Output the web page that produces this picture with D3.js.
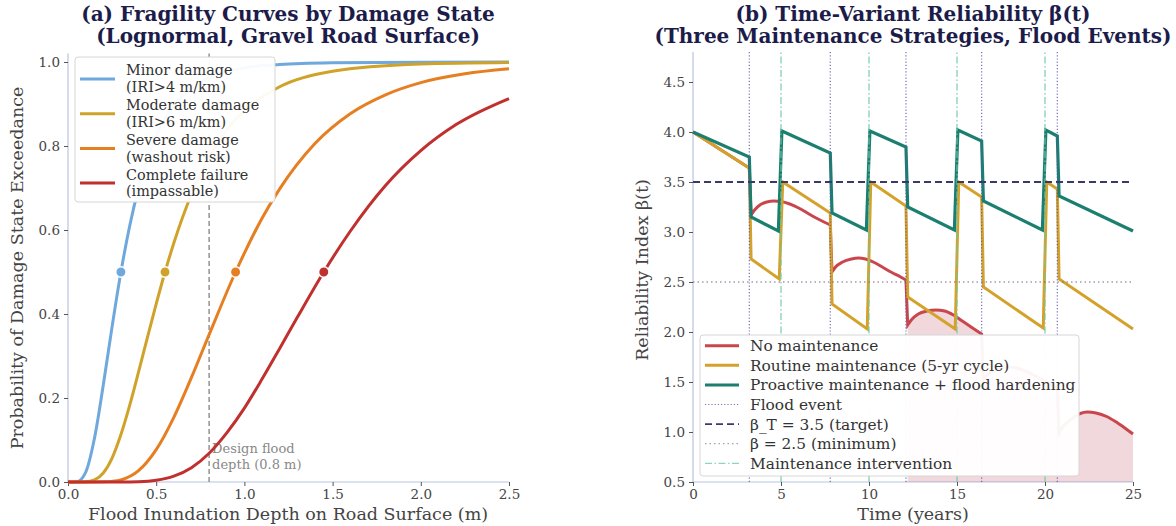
<!DOCTYPE html>
<html><head><meta charset="utf-8">
<script src="https://cdn.jsdelivr.net/npm/d3@7"></script>
<style>
body{margin:0;background:#fff;}
svg{display:block;}
text{font-family:"DejaVu Serif",serif;}
</style></head><body>
<svg id="c" width="1176" height="526"></svg>
<script>
// ===== Panel (a) data =====
const depthTicks = [0, 0.5, 1.0, 1.5, 2.0, 2.5];
const probTicks = [0, 0.2, 0.4, 0.6, 0.8, 1.0];
const damageStates = ["Minor damage", "Moderate damage", "Severe damage", "Complete failure"];
const damageNotes = ["(IRI>4 m/km)", "(IRI>6 m/km)", "(washout risk)", "(impassable)"];
const damageMedians = [0.3, 0.55, 0.95, 1.45];
const designDepth = 0.8;
const minorCurve = [[0,0],[0.05,0.0006],[0.1,0.023],[0.15,0.104],[0.2,0.231],[0.25,0.370],[0.3,0.5],[0.35,0.610],[0.4,0.700],[0.5,0.824],[0.6,0.896],[0.7,0.938],[0.8,0.963],[1.0,0.986],[1.2,0.994],[1.5,0.998],[2.0,0.9997],[2.5,0.9999]];
const moderateCurve = [[0,0],[0.05,0],[0.1,0.0003],[0.15,0.005],[0.2,0.0215],[0.25,0.057],[0.3,0.113],[0.35,0.183],[0.4,0.262],[0.45,0.344],[0.5,0.424],[0.55,0.5],[0.6,0.569],[0.7,0.685],[0.8,0.773],[0.9,0.838],[1.0,0.884],[1.2,0.941],[1.5,0.978],[2.0,0.995],[2.5,0.9988]];
const severeCurve = [[0,0],[0.1,0],[0.2,0.0003],[0.25,0.0015],[0.3,0.005],[0.4,0.027],[0.5,0.077],[0.6,0.154],[0.7,0.249],[0.8,0.351],[0.95,0.5],[1.0,0.545],[1.1,0.628],[1.2,0.698],[1.4,0.806],[1.6,0.877],[1.8,0.922],[2.0,0.951],[2.25,0.972],[2.5,0.984]];
const completeCurve = [[0,0],[0.3,0],[0.4,0.0006],[0.5,0.004],[0.6,0.014],[0.7,0.034],[0.8,0.0685],[0.9,0.117],[1.0,0.176],[1.1,0.245],[1.2,0.318],[1.3,0.392],[1.45,0.5],[1.6,0.597],[1.8,0.706],[2.0,0.789],[2.2,0.851],[2.5,0.913]];
const fragilityCurves = [minorCurve, moderateCurve, severeCurve, completeCurve];

// ===== Panel (b) data =====
const timeTicks = [0, 5, 10, 15, 20, 25];
const betaTicks = [0.5, 1.0, 1.5, 2.0, 2.5, 3.0, 3.5, 4.0, 4.5];
const floodEvents = [3.2, 7.8, 12.1, 16.4, 20.7];
const maintenanceYears = [5, 10, 15, 20];
const betaTarget = 3.5;
const betaMinimum = 2.5;
// No maintenance: smooth pieces between flood drops
const noMaintenance = [
  [[0,4.0],[3.2,3.64]],
  [[3.3,3.17],[3.5,3.22],[3.8,3.27],[4.2,3.30],[4.6,3.31],[5.0,3.305],[5.5,3.28],[6.0,3.24],[6.5,3.19],[7.0,3.14],[7.5,3.095],[7.8,3.07]],
  [[7.9,2.60],[8.1,2.65],[8.5,2.70],[9.0,2.73],[9.4,2.74],[9.8,2.73],[10.3,2.695],[10.8,2.645],[11.3,2.595],[11.8,2.55],[12.1,2.52]],
  [[12.2,2.07],[12.4,2.12],[12.8,2.18],[13.3,2.21],[13.8,2.22],[14.3,2.21],[14.8,2.17],[15.3,2.11],[15.8,2.05],[16.4,1.98]],
  [[16.5,1.52],[16.7,1.57],[17.2,1.62],[17.8,1.65],[18.4,1.64],[19.0,1.60],[19.6,1.55],[20.2,1.49],[20.7,1.44]],
  [[20.8,0.99],[21.0,1.05],[21.5,1.13],[22.0,1.185],[22.4,1.20],[22.9,1.19],[23.5,1.155],[24.0,1.105],[24.5,1.045],[25.0,0.98]]
];
const routineMaintenance = [[0,4.0],[3.2,3.64],[3.3,2.73],[4.9,2.53],[5.1,3.5],[7.8,3.19],[7.9,2.28],[9.9,2.03],[10.1,3.5],[12.1,3.26],[12.2,2.35],[14.9,2.03],[15.1,3.5],[16.4,3.35],[16.5,2.45],[19.9,2.04],[20.1,3.5],[20.7,3.43],[20.8,2.53],[25,2.03]];
const proactiveMaintenance = [[0,4.0],[3.2,3.75],[3.3,3.15],[4.85,3.01],[5.05,4.01],[7.8,3.79],[7.9,3.19],[9.85,3.02],[10.05,4.01],[12.1,3.85],[12.2,3.25],[14.85,3.02],[15.05,4.02],[16.4,3.91],[16.5,3.31],[19.85,3.02],[20.05,4.02],[20.7,3.96],[20.8,3.36],[25,3.01]];

// ===== styles =====
const damageColors = ["#6fa8dc", "#cfa32a", "#e67e22", "#c0302e"];
const colRed = "#c9474c", colGold = "#d4a12a", colGreen = "#1b7f70";
const titleCol = "#1c1c4a", textCol = "#444", spineCol = "#b7c3dd";
const titleSize = "20px", labelSize = "17.5px", legendSize = "15.4px", legendSizeA = "14.4px", tickSize = "13.5px";

const svg = d3.select("#c");

function axesFrame(g, x, y, xt, yt, xfmt, yfmt) {
  const [x0, x1] = x.range(), [yb, yt0] = y.range();
  g.append("line").attr("x1", x0).attr("x2", x0).attr("y1", yb).attr("y2", yt0).attr("stroke", spineCol).attr("stroke-width", 1.2);
  g.append("line").attr("x1", x0).attr("x2", x1).attr("y1", yb).attr("y2", yb).attr("stroke", spineCol).attr("stroke-width", 1.2);
  const xa = d3.axisBottom(x).tickValues(xt).tickFormat(xfmt).tickSize(4).tickPadding(3);
  const ya = d3.axisLeft(y).tickValues(yt).tickFormat(yfmt).tickSize(4).tickPadding(4);
  const gx = g.append("g").attr("transform", `translate(0,${yb})`).call(xa);
  const gy = g.append("g").attr("transform", `translate(${x0},0)`).call(ya);
  [gx, gy].forEach(a => {
    a.select(".domain").remove();
    a.selectAll(".tick line").attr("stroke", "#555").attr("stroke-width", 1);
    a.selectAll(".tick text").attr("fill", textCol).style("font-size", tickSize).style("font-family", "DejaVu Serif");
  });
}

// ================= Panel (a) =================
const xa = d3.scaleLinear().domain([0, 2.5]).range([68, 509]);
const ya = d3.scaleLinear().domain([0, 1.02]).range([482, 53.6]);
const ga = svg.append("g");
axesFrame(ga, xa, ya, depthTicks, probTicks, d3.format(".1f"), d3.format(".1f"));

ga.append("line").attr("x1", xa(designDepth)).attr("x2", xa(designDepth)).attr("y1", ya(0)).attr("y2", ya(1.02))
  .attr("stroke", "#999").attr("stroke-width", 1.6).attr("stroke-dasharray", "5,3");
ga.append("text").attr("x", xa(designDepth) + 3).attr("y", 453).attr("fill", "#888").style("font-size", "13px").text("Design flood");
ga.append("text").attr("x", xa(designDepth) + 3).attr("y", 469).attr("fill", "#888").style("font-size", "13px").text("depth (0.8 m)");

const lineA = d3.line().x(d => xa(d[0])).y(d => ya(d[1])).curve(d3.curveMonotoneX);
fragilityCurves.forEach((c, i) => {
  ga.append("path").attr("d", lineA(c)).attr("fill", "none").attr("stroke", damageColors[i]).attr("stroke-width", 3);
});
damageMedians.forEach((m, i) => {
  ga.append("circle").attr("cx", xa(m)).attr("cy", ya(0.5)).attr("r", 5.2).attr("fill", damageColors[i]).attr("stroke", "#fff").attr("stroke-width", 1.5);
});

const lgA = ga.append("g");
lgA.append("rect").attr("x", 75).attr("y", 57).attr("width", 200).attr("height", 145).attr("rx", 3)
  .attr("fill", "#fff").attr("fill-opacity", 0.95).attr("stroke", "#d6d6d6");
damageStates.forEach((s, i) => {
  const cy = 79 + i * 34.7;
  lgA.append("line").attr("x1", 80).attr("x2", 115).attr("y1", cy).attr("y2", cy).attr("stroke", damageColors[i]).attr("stroke-width", 3);
  lgA.append("text").attr("x", 126).attr("y", cy - 3.6).attr("fill", "#333").style("font-size", legendSizeA).text(s);
  lgA.append("text").attr("x", 126).attr("y", cy + 13.2).attr("fill", "#333").style("font-size", legendSizeA).text(damageNotes[i]);
});

svg.append("text").attr("x", 288).attr("y", 21).attr("text-anchor", "middle").attr("fill", titleCol)
  .style("font-size", titleSize).style("font-weight", "bold").text("(a) Fragility Curves by Damage State");
svg.append("text").attr("x", 288).attr("y", 43).attr("text-anchor", "middle").attr("fill", titleCol)
  .style("font-size", titleSize).style("font-weight", "bold").text("(Lognormal, Gravel Road Surface)");
svg.append("text").attr("x", 288).attr("y", 520).attr("text-anchor", "middle").attr("fill", textCol)
  .style("font-size", labelSize).text("Flood Inundation Depth on Road Surface (m)");
svg.append("text").attr("transform", "translate(23,268) rotate(-90)").attr("text-anchor", "middle").attr("fill", textCol)
  .style("font-size", labelSize).text("Probability of Damage State Exceedance");

// ================= Panel (b) =================
const xb = d3.scaleLinear().domain([0, 25]).range([693, 1133]);
const yb = d3.scaleLinear().domain([0.5, 4.8]).range([482, 52]);
const gb = svg.append("g");
axesFrame(gb, xb, yb, timeTicks, betaTicks, d3.format("d"), d3.format(".1f"));

const lineB = d3.line().x(d => xb(d[0])).y(d => yb(d[1])).curve(d3.curveMonotoneX);
function joinedPath(segs) {
  return segs.map((s, i) => { const p = lineB(s); return i === 0 ? p : "L" + p.slice(1); }).join("");
}
const belowSegs = noMaintenance.slice(3);
const fillPath = joinedPath(belowSegs) + `L${xb(25)},${yb(0.5)}L${xb(belowSegs[0][0][0])},${yb(0.5)}Z`;
gb.append("path").attr("d", fillPath).attr("fill", "#b23a55").attr("fill-opacity", 0.2).attr("stroke", "none");

gb.append("path").attr("d", joinedPath(noMaintenance)).attr("fill", "none").attr("stroke", colRed).attr("stroke-width", 3);
const lineLin = d3.line().x(d => xb(d[0])).y(d => yb(d[1]));
gb.append("path").attr("d", lineLin(routineMaintenance)).attr("fill", "none").attr("stroke", colGold).attr("stroke-width", 3);
gb.append("path").attr("d", lineLin(proactiveMaintenance)).attr("fill", "none").attr("stroke", colGreen).attr("stroke-width", 3.2);

floodEvents.forEach(t => {
  gb.append("line").attr("x1", xb(t)).attr("x2", xb(t)).attr("y1", yb(0.5)).attr("y2", yb(4.8))
    .attr("stroke", "#5b55b0").attr("stroke-width", 1.2).attr("stroke-dasharray", "1.2,2").attr("opacity", 0.85);
});
maintenanceYears.forEach(t => {
  gb.append("line").attr("x1", xb(t)).attr("x2", xb(t)).attr("y1", yb(0.5)).attr("y2", yb(4.8))
    .attr("stroke", "#6fcaa6").attr("stroke-width", 1.3).attr("stroke-dasharray", "7,2.5,1.5,2.5").attr("opacity", 0.85);
});
gb.append("line").attr("x1", xb(0)).attr("x2", xb(25)).attr("y1", yb(betaTarget)).attr("y2", yb(betaTarget))
  .attr("stroke", "#3a3a6a").attr("stroke-width", 1.8).attr("stroke-dasharray", "7,4");
gb.append("line").attr("x1", xb(0)).attr("x2", xb(25)).attr("y1", yb(betaMinimum)).attr("y2", yb(betaMinimum))
  .attr("stroke", "#6a6a8a").attr("stroke-width", 1).attr("stroke-dasharray", "1.5,3");

const legB = [
  {label: "No maintenance", stroke: colRed, w: 3, dash: null},
  {label: "Routine maintenance (5-yr cycle)", stroke: colGold, w: 3, dash: null},
  {label: "Proactive maintenance + flood hardening", stroke: colGreen, w: 3, dash: null},
  {label: "Flood event", stroke: "#7a74c4", w: 1.2, dash: "1.2,2"},
  {label: "β_T = 3.5 (target)", stroke: "#3a3a6a", w: 1.8, dash: "7,4"},
  {label: "β = 2.5 (minimum)", stroke: "#8a8aa6", w: 1, dash: "1.5,3"},
  {label: "Maintenance intervention", stroke: "#8fd6b8", w: 1.3, dash: "7,2.5,1.5,2.5"}
];
const lgB = gb.append("g");
lgB.append("rect").attr("x", 700).attr("y", 335).attr("width", 379).attr("height", 141).attr("rx", 3)
  .attr("fill", "#fff").attr("fill-opacity", 0.95).attr("stroke", "#d6d6d6");
legB.forEach((e, i) => {
  const cy = 345.7 + i * 19.6;
  const l = lgB.append("line").attr("x1", 705).attr("x2", 739).attr("y1", cy).attr("y2", cy).attr("stroke", e.stroke).attr("stroke-width", e.w);
  if (e.dash) l.attr("stroke-dasharray", e.dash);
  lgB.append("text").attr("x", 750).attr("y", cy + 5.5).attr("fill", "#333").style("font-size", legendSize).text(e.label);
});

svg.append("text").attr("x", 913).attr("y", 21).attr("text-anchor", "middle").attr("fill", titleCol)
  .style("font-size", titleSize).style("font-weight", "bold").text("(b) Time-Variant Reliability β(t)");
svg.append("text").attr("x", 913).attr("y", 43).attr("text-anchor", "middle").attr("fill", titleCol)
  .style("font-size", titleSize).style("font-weight", "bold").text("(Three Maintenance Strategies, Flood Events)");
svg.append("text").attr("x", 913).attr("y", 520).attr("text-anchor", "middle").attr("fill", textCol)
  .style("font-size", labelSize).text("Time (years)");
svg.append("text").attr("transform", "translate(648,270) rotate(-90)").attr("text-anchor", "middle").attr("fill", textCol)
  .style("font-size", labelSize).text("Reliability Index β(t)");
</script>
</body></html>
